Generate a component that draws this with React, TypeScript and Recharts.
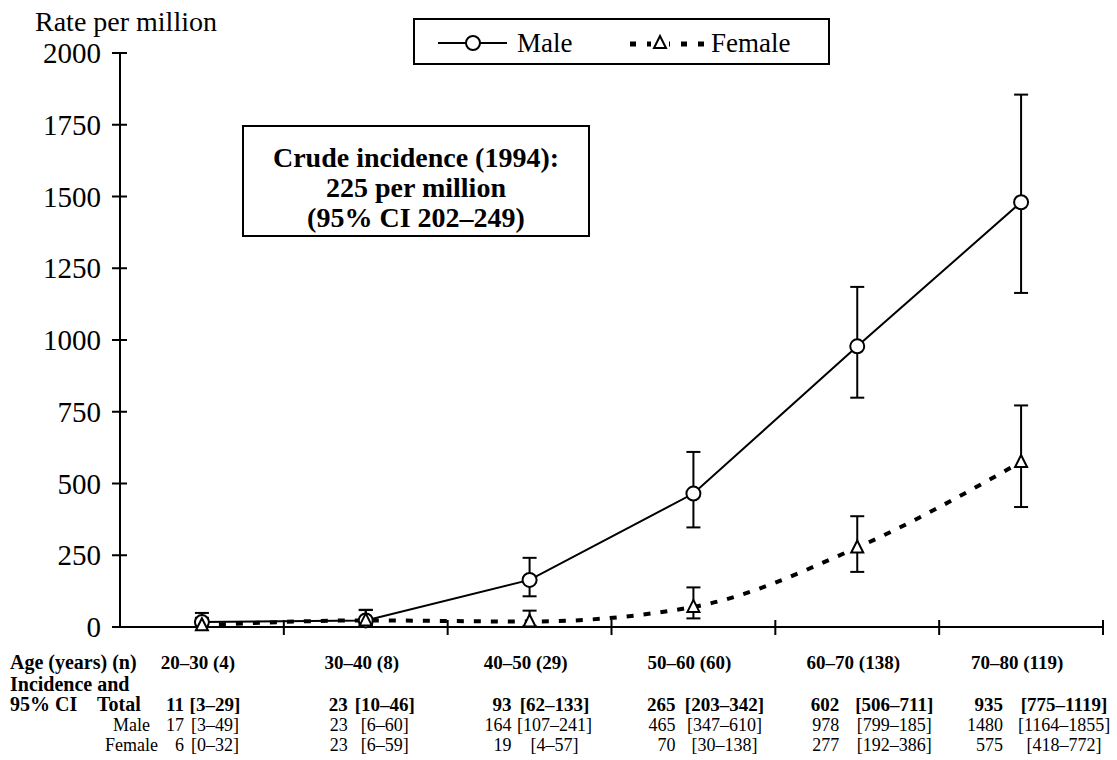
import React from "react";
import { LineChart, Line, XAxis, YAxis, ErrorBar, Legend } from "recharts";

const SERIF = '"Liberation Serif", "Times New Roman", serif';

const ageGroups = ["20–30", "30–40", "40–50", "50–60", "60–70", "70–80"];
const caseCounts = [4, 8, 29, 60, 138, 119];

const totalRate = [11, 23, 93, 265, 602, 935];
const totalCIText = ["[3–29]", "[10–46]", "[62–133]", "[203–342]", "[506–711]", "[775–1119]"];

const maleRate = [17, 23, 164, 465, 978, 1480];
const maleLow = [3, 6, 107, 347, 799, 1164];
const maleHigh = [49, 60, 241, 610, 1185, 1855];
// as printed in the table (keeps the source's "799–185")
const maleCIText = ["[3–49]", "[6–60]", "[107–241]", "[347–610]", "[799–185]", "[1164–1855]"];

const femaleRate = [6, 23, 19, 70, 277, 575];
const femaleLow = [0, 6, 4, 30, 192, 418];
const femaleHigh = [32, 59, 57, 138, 386, 772];
const femaleCIText = ["[0–32]", "[6–59]", "[4–57]", "[30–138]", "[192–386]", "[418–772]"];

const yTicks = [0, 250, 500, 750, 1000, 1250, 1500, 1750, 2000];
const groupEdges = [1, 2, 3, 4, 5, 6];
const groupCenters = ageGroups.map((_, i) => i + 0.5);

const data = ageGroups.map((age, i) => ({
  pos: i + 0.5,
  age,
  male: maleRate[i],
  maleErr: [maleRate[i] - maleLow[i], maleHigh[i] - maleRate[i]],
  female: femaleRate[i],
  femaleErr: [femaleRate[i] - femaleLow[i], femaleHigh[i] - femaleRate[i]],
}));

const YTick = ({ x, y, payload }: any) => (
  <g>
    <line x1={x - 8} x2={x + 7} y1={y} y2={y} stroke="#000" strokeWidth={2} />
    <text x={x - 19} y={y} dy="0.35em" textAnchor="end" fontSize={29} fontFamily={SERIF} fill="#000">
      {payload.value}
    </text>
  </g>
);

const EdgeTick = ({ x, y }: any) => (
  <line x1={x} x2={x} y1={y - 7} y2={y + 8} stroke="#000" strokeWidth={2} />
);

// the printed table is spaced a little wider than the plot columns
const TableTick = ({ x, y, payload }: any) => {
  const i = Math.floor(payload.value);
  const nx = x - 18;
  const bx = x + 13 + 6 * i;
  return (
    <g fill="#000" fontSize={18} fontFamily={SERIF}>
      <text x={x - 4} y={y + 32} textAnchor="middle" fontWeight="bold" fontSize={19}>
        {ageGroups[i]} ({caseCounts[i]})
      </text>
      <text x={nx} y={y + 74} textAnchor="end" fontWeight="bold" fontSize={19}>{totalRate[i]}</text>
      <text x={bx} y={y + 74} textAnchor="middle" fontWeight="bold" fontSize={19}>{totalCIText[i]}</text>
      <text x={nx} y={y + 94} textAnchor="end">{maleRate[i]}</text>
      <text x={bx} y={y + 94} textAnchor="middle">{maleCIText[i]}</text>
      <text x={nx} y={y + 114} textAnchor="end">{femaleRate[i]}</text>
      <text x={bx} y={y + 114} textAnchor="middle">{femaleCIText[i]}</text>
    </g>
  );
};

const TriangleDot = ({ cx, cy }: any) => (
  <polygon
    points={`${cx},${cy - 7} ${cx - 6},${cy + 5} ${cx + 6},${cy + 5}`}
    fill="#fff"
    stroke="#000"
    strokeWidth={2}
  />
);

const LegendBox = () => (
  <div style={{ width: 417, height: 47, border: "2px solid #000", boxSizing: "border-box", background: "#fff" }}>
    <svg width={413} height={43} style={{ display: "block" }}>
      <line x1={23} x2={92} y1={23} y2={23} stroke="#000" strokeWidth={2} />
      <circle cx={58} cy={23} r={7} fill="#fff" stroke="#000" strokeWidth={2} />
      <text x={102} y={32} fontSize={27} fontFamily={SERIF} fill="#000">Male</text>
      <line x1={215} x2={290} y1={24} y2={24} stroke="#000" strokeWidth={5} strokeDasharray="6 11" />
      <rect x={236} y={14} width={18} height={16} fill="#fff" />
      <TriangleDot cx={245} cy={23} />
      <text x={296} y={32} fontSize={27} fontFamily={SERIF} fill="#000">Female</text>
    </svg>
  </div>
);

export default function App() {
  return (
    <div
      style={{
        position: "absolute",
        left: 0,
        top: 0,
        width: 1117,
        height: 760,
        background: "#fff",
        fontFamily: SERIF,
        color: "#000",
      }}
    >
      <LineChart width={1117} height={760} data={data} margin={{ top: 53, right: 14, left: 0, bottom: 0 }}>
        <XAxis
          type="number"
          dataKey="pos"
          domain={[0, 6]}
          ticks={groupEdges}
          tick={<EdgeTick />}
          tickLine={false}
          tickSize={0}
          tickMargin={0}
          axisLine={{ stroke: "#000", strokeWidth: 2 }}
          height={10}
          interval={0}
        />
        <XAxis
          xAxisId="table"
          type="number"
          dataKey="pos"
          domain={[0, 6]}
          ticks={groupCenters}
          tick={<TableTick />}
          tickLine={false}
          tickSize={0}
          tickMargin={0}
          axisLine={false}
          height={123}
          interval={0}
        />
        <YAxis
          domain={[0, 2000]}
          ticks={yTicks}
          tick={<YTick />}
          tickLine={false}
          tickSize={0}
          tickMargin={0}
          axisLine={{ stroke: "#000", strokeWidth: 2 }}
          width={120}
          interval={0}
        />
        <Legend
          content={<LegendBox />}
          layout="vertical"
          verticalAlign="middle"
          align="center"
          wrapperStyle={{ left: 413, top: 18, width: 417, height: 47 }}
        />
        <Line
          dataKey="male"
          name="Male"
          type="linear"
          stroke="#000"
          strokeWidth={2}
          dot={{ r: 7, fill: "#fff", stroke: "#000", strokeWidth: 2 }}
          isAnimationActive={false}
        >
          <ErrorBar dataKey="maleErr" direction="y" width={7} stroke="#000" strokeWidth={2} />
        </Line>
        <Line
          dataKey="female"
          name="Female"
          type="monotone"
          stroke="#000"
          strokeWidth={4}
          strokeDasharray="7 10"
          dot={(p: any) => <TriangleDot key={p.index} cx={p.cx} cy={p.cy} />}
          isAnimationActive={false}
        >
          <ErrorBar dataKey="femaleErr" direction="y" width={7} stroke="#000" strokeWidth={2} />
        </Line>
      </LineChart>

      <svg
        width={1117}
        height={760}
        style={{ position: "absolute", left: 0, top: 0, pointerEvents: "none" }}
        fontFamily={SERIF}
      >
        <text x={35} y={31} fontSize={28} fill="#000">Rate per million</text>
        <g fill="#000" fontSize={20} fontWeight="bold">
          <text x={10} y={669}>Age (years) (n)</text>
          <text x={10} y={691}>Incidence and</text>
          <text x={10} y={711}>95% CI</text>
          <text x={97} y={711}>Total</text>
        </g>
        <g fill="#000" fontSize={18}>
          <text x={113} y={731}>Male</text>
          <text x={105} y={751}>Female</text>
        </g>
      </svg>

      <div
        style={{
          position: "absolute",
          left: 242,
          top: 125,
          width: 348,
          height: 112,
          boxSizing: "border-box",
          border: "2px solid #000",
          background: "#fff",
          textAlign: "center",
          fontWeight: "bold",
          fontSize: 28,
          lineHeight: "30px",
          paddingTop: 16,
        }}
      >
        <div>Crude incidence (1994):</div>
        <div>225 per million</div>
        <div>(95% CI 202–249)</div>
      </div>
    </div>
  );
}
